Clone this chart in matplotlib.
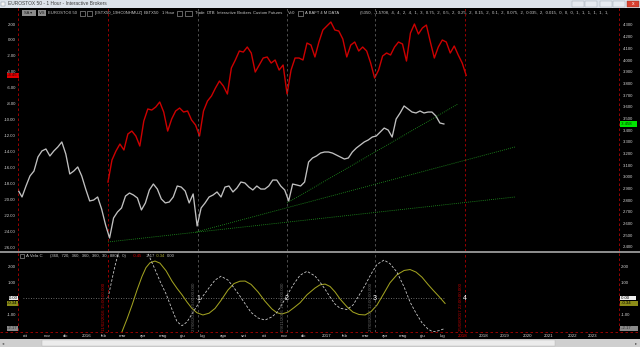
import numpy as np
import matplotlib
matplotlib.use('Agg')
from matplotlib import pyplot as plt
from matplotlib import transforms
import matplotlib.patches as patches

plt.rcParams['font.family'] = ['Liberation Sans', 'DejaVu Sans']

# x axis unit: months since 1 Oct 2015 (platform trading-hour scale)
step = 0.2
gray_start = -0.35
red_start = 4.17

# EUROSTOX 50 close (right axis)
gray_close = [2.888, 2.828, 2.922, 3.008, 3.050, 3.170, 3.222, 3.239, 3.179, 3.222,
              3.256, 3.299, 3.196, 3.025, 3.050, 3.085, 3.008, 2.896, 2.794, 2.802,
              2.828, 2.725, 2.588, 2.477, 2.648, 2.700, 2.734, 2.836, 2.862, 2.845,
              2.819, 2.717, 2.777, 2.888, 2.939, 2.896, 2.811, 2.777, 2.785, 2.828,
              2.922, 2.913, 2.879, 2.777, 2.854, 2.580, 2.734, 2.777, 2.828, 2.845,
              2.871, 2.828, 2.913, 2.922, 2.871, 2.905, 2.956, 2.948, 2.913, 2.888,
              2.922, 2.896, 2.896, 2.922, 2.973, 2.973, 2.922, 2.888, 2.794, 2.939,
              2.931, 2.922, 2.956, 3.127, 3.162, 3.179, 3.204, 3.213, 3.213, 3.204,
              3.187, 3.170, 3.153, 3.162, 3.213, 3.247, 3.273, 3.299, 3.316, 3.341,
              3.350, 3.384, 3.418, 3.401, 3.341, 3.495, 3.547, 3.607, 3.581, 3.555,
              3.547, 3.564, 3.547, 3.555, 3.555, 3.521, 3.461, 3.453]

# A BAFT 4 M DATA (left axis)
red_spread = [-17.84, -15.08, -13.95, -13.07, -13.82, -11.81, -11.44, -12.06, -13.32, -10.18,
              -8.67, -8.80, -8.42, -7.79, -9.05, -11.44, -9.93, -8.92, -8.55, -9.05,
              -8.92, -10.05, -10.68, -12.06, -8.92, -7.67, -7.04, -6.04, -5.16, -5.79,
              -6.79, -3.52, -2.52, -1.39, -1.52, -0.89, -1.64, -4.03, -3.15, -2.27,
              -2.14, -2.90, -2.52, -3.78, -3.15, -6.79, -3.78, -2.27, -2.27, -2.52,
              -0.39, -0.64, -2.14, -0.26, 1.25, 1.75, 2.25, 1.25, 1.12, 0.12,
              -2.14, -0.64, -0.26, -1.39, -0.89, -1.39, -2.90, -4.78, -3.78, -2.02,
              -1.64, -1.89, -0.89, -0.26, -0.51, -2.65, 0.87, 2.00, 0.74, 1.50,
              1.87, -0.26, -2.27, -0.89, -0.01, -0.26, -1.64, -0.76, -1.89, -2.90,
              -4.45]

# A Vela C lower panel
cycle_x = [4.17, 4.52, 4.87, 5.13, 5.38, 5.63, 5.88, 6.08, 6.28, 6.53, 6.78, 7.09, 7.39, 7.64,
           7.89, 8.14, 8.39, 8.64, 8.94, 9.25, 9.55, 9.85, 10.20, 10.50, 10.80, 11.06, 11.36,
           11.71, 12.06, 12.41, 12.66, 12.91, 13.22, 13.52, 13.82, 14.17, 14.57, 14.82, 15.08,
           15.33, 15.58, 15.83, 16.18, 16.48, 16.78, 17.09, 17.39, 17.69, 18.04, 18.34, 18.69,
           19.05, 19.35, 19.65, 19.95, 20.25, 20.50, 20.80, 21.11]
olive_wave = [-4.5, -3.3, -2.12, -1.3, -0.44, 0.5, 1.35, 1.9, 2.2, 2.31, 2.18, 1.7, 1.05, 0.6,
              0.2, -0.25, -0.65, -0.92, -1.06, -0.95, -0.65, -0.15, 0.5, 0.9, 1.05, 1.06, 0.85,
              0.38, -0.2, -0.69, -0.92, -1.0, -0.88, -0.6, -0.3, 0.2, 0.62, 0.82, 0.87,
              0.72, 0.38, -0.06, -0.55, -0.88, -1.03, -1.06, -0.85, -0.44, 0.3, 0.95, 1.45,
              1.72, 1.78, 1.62, 1.3, 0.85, 0.5, 0.1, -0.34]
white_wave = [0.0, 2.0, 3.7, 4.2, 4.6, 4.3, 3.7, 3.05, 2.5, 1.8, 1.06, 0.25, -0.72, -1.48,
              -1.73, -1.5, -1.0, -0.5, 0.12, 0.64, 1.12, 1.36, 1.12, 0.64, 0.12, -0.36, -0.9,
              -1.25, -1.38, -1.18, -0.9, -0.4, 0.28, 0.9, 1.42, 1.67, 1.38, 1.0, 0.55,
              0.06, -0.38, -0.64, -0.72, -0.44, 0.15, 0.8, 1.5, 2.1, 2.37, 2.15, 1.62,
              0.69, -0.25, -0.95, -1.55, -1.94, -2.12, -2.04, -1.9]

cycle_lines = [4.17, 8.69, 13.17, 17.59, 22.11]
cycle_names = ['', '1', '2', '3', '4']
cycle_stamps = ['11/02/2016 15:00:00.000', '27/06/2016 10:00:00.000', '09/11/2016 16:00:00.000',
                '27/03/2017 12:00:00.000', '25/08/2017 22:00:00.000']
cycle_red = [True, False, False, False, True]

trend_lines = [((4.17, 24.62), (2.443, 2.828)),
               ((8.59, 24.62), (2.528, 3.256)),
               ((13.17, 21.76), (2.777, 3.624))]

month_pos = [0, 1.1, 2.05, 3.1, 3.95, 4.9, 5.93, 6.93, 7.94, 8.94, 9.95, 11.0, 12.01, 13.02,
             14.02, 15.18, 16.08, 17.09, 18.09, 19.0, 20.0, 21.01]
month_lab = ['ott', 'nov', 'dic', '2016', 'feb', 'mar', 'apr', 'mag', 'giu', 'lug', 'ago', 'set',
             'ott', 'nov', 'dic', '2017', 'feb', 'mar', 'apr', 'mag', 'giu', 'lug']
year_pos = [22.01, 23.07, 24.12, 25.23, 26.33, 27.49, 28.54]
year_lab = ['2018', '2018', '2019', '2020', '2021', '2022', '2023']

W, H = 640, 347
BG = 'black'
TXT = '#d4d4d4'
RED = '#cc0000'
FS = 3.1


def rect(x0, y0, x1, y1):
    return [x0 / W, 1 - y1 / H, (x1 - x0) / W, (y1 - y0) / H]


fig = plt.figure(figsize=(6.4, 3.47), dpi=100, facecolor=BG)

# main panel
ax = fig.add_axes(rect(18, 8, 619, 251))
ax.set_facecolor(BG)
ax.set_xlim(-0.352, 29.85)
ax.set_ylim(-26.5, 4.01)
ax2 = ax.twinx()
ax2.set_ylim(2.3657, 4.4455)

xg = gray_start + step * np.arange(len(gray_close))
xr = red_start + step * np.arange(len(red_spread))
ax.plot(xr, red_spread, color=RED, lw=1.0)
ax2.plot(xg, gray_close, color='#c0c0c0', lw=0.95)
for xs, ys in trend_lines:
    ax2.plot(xs, ys, color='#22a022', lw=0.6, ls=(0, (1, 1.5)))

lt = np.arange(-26, 3, 2)
ax.set_yticks(lt, [f'{v:.2f}' for v in lt])
rt = np.round(np.arange(2.4, 4.31, 0.1), 1)
ax2.set_yticks(rt, [f'{v:.3f}' for v in rt])
ax.set_xticks([])
ax.tick_params(axis='y', length=0, labelsize=FS, labelcolor=TXT, pad=1.5)
ax2.tick_params(axis='y', length=0, labelsize=FS, labelcolor=TXT, pad=3)

# lower panel
axl = fig.add_axes(rect(18, 253, 619, 332))
axl.set_facecolor(BG)
axl.set_xlim(-0.352, 29.85)
axl.set_ylim(-2.125, 2.8125)
axl.hlines(0, -0.1, 21.1, colors='#8a8a8a', linestyles=(0, (1, 2)), lw=0.6)
axl.plot(cycle_x, olive_wave, color='#a0a020', lw=0.75)
axl.plot(cycle_x, white_wave, color='#c8c8c8', lw=0.6, ls=(0, (3, 2)))
axl.set_yticks([-1, 1, 2], ['-1.00', '1.00', '2.00'])
axl.tick_params(axis='y', length=0, labelsize=FS, labelcolor=TXT, pad=1.5,
                labelleft=True, labelright=True)
axl.set_xticks(month_pos + year_pos, month_lab + year_lab)
axl.tick_params(axis='x', length=0, labelsize=3.2, labelcolor=TXT, pad=1.6)
axl.get_xticklabels()[len(month_pos)].set_color('#e00000')

for x, name, stamp, isred in zip(cycle_lines, cycle_names, cycle_stamps, cycle_red):
    c = '#b00000' if isred else '#5a5a5a'
    for a in (ax, axl):
        a.axvline(x, color=c, lw=0.6, ls=(0, (3, 3)))
    axl.text(x - 0.1, -2.08, stamp, rotation=90, fontsize=3.2, ha='right', va='bottom',
             color='#c00000' if isred else '#6a6a6a')
    if name:
        axl.text(x, 0, name, color='white', fontsize=5, ha='center', va='center')

for a in (ax, ax2, axl):
    for s in a.spines.values():
        s.set_visible(False)

# last-value boxes
trL = transforms.blended_transform_factory(ax.transAxes, ax.transData)
trR = transforms.blended_transform_factory(ax2.transAxes, ax2.transData)
ax.text(0, red_spread[-1], '-4.45 ', transform=trL, ha='right', va='center', fontsize=FS,
        color='#300000', clip_on=False,
        bbox=dict(boxstyle='square,pad=0.15', fc='#e00000', ec='none'))
ax2.text(1.002, gray_close[-1], ' 3.458    ', transform=trR, ha='left', va='center',
         fontsize=FS, color='#003000', clip_on=False,
         bbox=dict(boxstyle='square,pad=0.15', fc='#00e600', ec='none'))
trLl = transforms.blended_transform_factory(axl.transAxes, axl.transData)
for v, lab, fc, tc in [(0, '0.00', '#f0f0f0', 'black'), (-0.34, '-0.34', '#8c8c18', 'black'),
                       (-1.9, '-2.17', '#8a8a8a', '#303030')]:
    axl.text(0, v, lab + ' ', transform=trLl, ha='right', va='center', fontsize=FS,
             color=tc, clip_on=False, bbox=dict(boxstyle='square,pad=0.1', fc=fc, ec='none'))
    axl.text(1.002, v, ' ' + lab + '      ', transform=trLl, ha='left', va='center',
             fontsize=FS, color=tc, clip_on=False,
             bbox=dict(boxstyle='square,pad=0.1', fc=fc, ec='none'))

# window chrome and headers (pixel coordinates)
ov = fig.add_axes([0, 0, 1, 1])
ov.set_xlim(0, W)
ov.set_ylim(H, 0)
ov.axis('off')
ov.patch.set_alpha(0)

ov.add_patch(patches.Rectangle((0, 0), W, 7.5, fc='#dce2ea', ec='none'))
ov.add_patch(patches.Rectangle((1, 1.5), 4, 4.5, fc='#f4f4f4', ec='#7a8a9a', lw=0.3))
ov.text(8, 3.9, 'EUROSTOX 50 - 1 Hour - Interactive Brokers', fontsize=3.5, color='#404040',
        va='center')
for bx in (572, 585, 600, 613):
    ov.add_patch(patches.Rectangle((bx, 1), 11.5, 5.5, fc='#e6eaf0', ec='#9aa4b0', lw=0.3))
ov.add_patch(patches.Rectangle((627, 1), 11.5, 5.5, fc='#d84030', ec='#903020', lw=0.3))
ov.text(632.7, 3.8, 'x', fontsize=3.6, color='white', ha='center', va='center')

hy = 13.2
ov.add_patch(patches.Rectangle((22, 10.3), 14, 5.6, fc='#8c8c8c', ec='none'))
ov.text(24, hy, 'SA ▾', fontsize=2.9, color='#1a1a1a', va='center')
ov.add_patch(patches.Rectangle((38, 10.3), 8, 5.6, fc='#8c8c8c', ec='none'))
ov.text(39, hy, 'V/S', fontsize=2.9, color='#1a1a1a', va='center')
for bx, bw in [(80, 4.5), (87, 5), (177, 5), (185, 7), (298, 5)]:
    ov.add_patch(patches.Rectangle((bx, 10.5), bw, 5.2, fc='none', ec='#b0b0b0', lw=0.4))
hdr = [(48, 'EUROSTOX 50'), (95, '[ESTX50_19HC0NHMUZ]'), (144, 'ESTX50'), (162, '1 Hour'),
       (195, 'Trade'), (207, 'DTB'), (217, 'Interactive Brokers'), (253, 'Custom Futures'),
       (288, 'V=0'), (305, 'A BAFT 4 M DATA')]
for hx, s in hdr:
    ov.text(hx, hy, s, fontsize=3.0, color='#cacaca', va='center')
ov.text(360, hy, '(5350,  -1.5708,  4,  4,  2,  4,  1,  3,  0.75,  2,  0.5,  2,  0.25,  2,  '
        '0.15,  2,  0.1,  2,  0.075,  2,  0.035,  2,  0.015,  0,  0,  0,  1,  1,  1,  1,  1,  1,',
        fontsize=3.05, color='#cacaca', va='center')

ly = 256.3
ov.add_patch(patches.Rectangle((20, 254), 4, 4.4, fc='none', ec='#b0b0b0', lw=0.4))
ov.text(26, ly, 'A Vela C', fontsize=3.2, color='#cacaca', va='center')
ov.text(50, ly, '(360,  720,  360,  360,  360,  30,  8808,  0)', fontsize=3.0,
        color='#cacaca', va='center')
for lx, s, c in [(133, '-0.45', '#e00000'), (146, '-2.17', '#cacaca'),
                 (156, '-0.34', '#b0b030'), (167, '0.00', '#cacaca')]:
    ov.text(lx, ly, s, fontsize=3.0, color=c, va='center')

# separator and dashed borders
ov.plot([0, W], [252, 252], color='#a8a8a8', lw=1.2)
for bx in (18, 619):
    ov.plot([bx, bx], [8, 332], color='#b00000', lw=0.6, ls=(0, (3, 3)))
ov.plot([0, W], [332, 332], color='#b00000', lw=0.6, ls=(0, (3, 3)))

# scrollbar
ov.add_patch(patches.Rectangle((0, 338.5), W, 8.5, fc='#cfcfcf', ec='none'))
ov.add_patch(patches.Rectangle((42, 339.5), 513, 6.5, fc='#ececec', ec='#b4b4b4', lw=0.3))
ov.text(3, 342.8, '◂', fontsize=3.2, color='#505050', ha='center', va='center')
ov.text(636, 342.8, '▸', fontsize=3.2, color='#505050', ha='center', va='center')

fig.savefig('out.png', dpi=100, facecolor=BG)
